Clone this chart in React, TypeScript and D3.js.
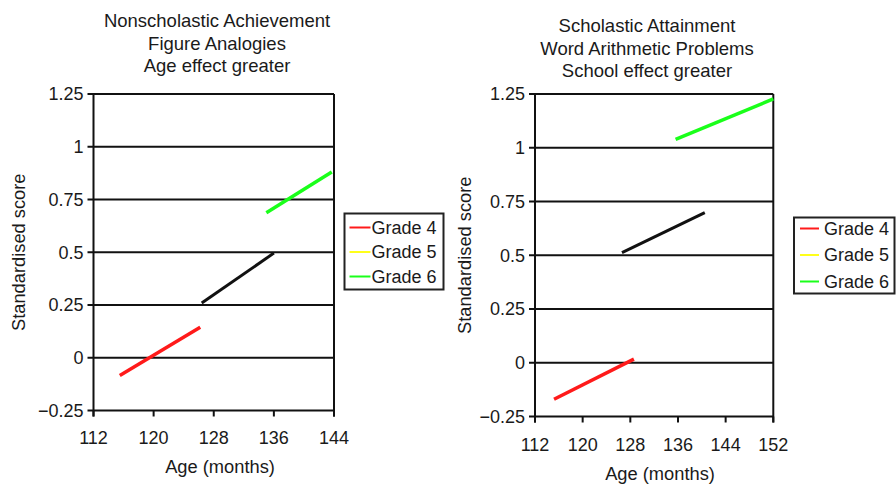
import React from 'react';
import { scaleLinear, line } from 'd3';

// legend entries, shared by both panels
const grades = ['Grade 4', 'Grade 5', 'Grade 6'];
const legendColors = ['#ff1a1a', '#ffff1a', '#1aff1a'];
// the grade 5 segment is drawn in black in the original figure
const lineColors = ['#ff1a1a', '#111111', '#1aff1a'];

const yTicks = [-0.25, 0, 0.25, 0.5, 0.75, 1, 1.25];
const yTickLabels = ['\u22120.25', '0', '0.25', '0.5', '0.75', '1', '1.25'];

// left panel: age (months) vs standardised score, start and end of each grade
const analogiesTitle = ['Nonscholastic Achievement', 'Figure Analogies', 'Age effect greater'];
const analogiesXTicks = [112, 120, 128, 136, 144];
const analogiesG4 = [[115.5, -0.084], [126.2, 0.145]];
const analogiesG5 = [[126.4, 0.259], [136.0, 0.496]];
const analogiesG6 = [[135.0, 0.687], [143.7, 0.88]];

// right panel
const arithmeticTitle = ['Scholastic Attainment', 'Word Arithmetic Problems', 'School effect greater'];
const arithmeticXTicks = [112, 120, 128, 136, 144, 152];
const arithmeticG4 = [[115.2, -0.17], [128.6, 0.017]];
const arithmeticG5 = [[126.6, 0.512], [140.5, 0.698]];
const arithmeticG6 = [[135.6, 1.039], [152, 1.227]];

const font = '"Liberation Sans", Arial, sans-serif';

function Panel({ title, titleX, titleY, xTicks, series, x0, x1, y0, y1, tickBase, axisLabelX, axisLabelY, yLabelX, legend }) {
  const x = scaleLinear().domain([xTicks[0], xTicks[xTicks.length - 1]]).range([x0, x1]);
  const y = scaleLinear().domain([-0.25, 1.25]).range([y1, y0]);
  const path = line().x(d => x(d[0])).y(d => y(d[1]));

  return (
    <g fontFamily={font} fill="#1a1a1a">
      {title.map((t, i) => (
        <text key={i} x={titleX} y={titleY + i * 22.5} textAnchor="middle" fontSize={18.5}>{t}</text>
      ))}

      {/* gridlines at every tick */}
      {yTicks.map((v, i) => (
        <g key={i}>
          <line x1={x0 - 6} x2={x1} y1={y(v)} y2={y(v)} stroke="#111" strokeWidth={2} />
          <text x={x0 - 10} y={y(v)} dy="0.35em" textAnchor="end" fontSize={18}>{yTickLabels[i]}</text>
        </g>
      ))}
      <line x1={x0} x2={x0} y1={y0} y2={y1 + 6} stroke="#111" strokeWidth={2} />
      <line x1={x1} x2={x1} y1={y0} y2={y1 + 6} stroke="#111" strokeWidth={2} />
      {xTicks.map((v, i) => (
        <g key={i}>
          <line x1={x(v)} x2={x(v)} y1={y1} y2={y1 + 6} stroke="#111" strokeWidth={2} />
          <text x={x(v)} y={tickBase} textAnchor="middle" fontSize={18}>{v}</text>
        </g>
      ))}

      {series.map((s, i) => (
        <path key={i} d={path(s)} fill="none" stroke={lineColors[i]} strokeWidth={i === 1 ? 3 : 3.5} />
      ))}

      <text x={axisLabelX} y={axisLabelY} textAnchor="middle" fontSize={18.3}>Age (months)</text>
      <text transform={`translate(${yLabelX},${(y0 + y1) / 2}) rotate(-90)`} textAnchor="middle" fontSize={18.3}>
        Standardised score
      </text>

      <rect x={legend.x} y={legend.y} width={legend.w} height={legend.h} fill="#fff" stroke="#222" strokeWidth={2} />
      {grades.map((g, i) => (
        <g key={g}>
          <line x1={legend.x + legend.lx0} x2={legend.x + legend.lx1}
            y1={legend.y + legend.r0 + i * legend.dr} y2={legend.y + legend.r0 + i * legend.dr}
            stroke={legendColors[i]} strokeWidth={2} />
          <text x={legend.x + legend.tx} y={legend.y + legend.r0 + i * legend.dr} dy="0.35em" fontSize={18}>{g}</text>
        </g>
      ))}
    </g>
  );
}

export default function App() {
  return (
    <svg width={896} height={485} style={{ position: 'absolute', left: 0, top: 0, background: '#fff' }}>
      <Panel
        title={analogiesTitle} titleX={217} titleY={27}
        xTicks={analogiesXTicks}
        series={[analogiesG4, analogiesG5, analogiesG6]}
        x0={93.5} x1={334} y0={94} y1={410.5}
        tickBase={444} axisLabelX={220} axisLabelY={473} yLabelX={25}
        legend={{ x: 344.5, y: 213.5, w: 99, h: 76, lx0: 5, lx1: 26, tx: 27, r0: 14, dr: 24.5 }}
      />
      <Panel
        title={arithmeticTitle} titleX={647} titleY={32}
        xTicks={arithmeticXTicks}
        series={[arithmeticG4, arithmeticG5, arithmeticG6]}
        x0={535} x1={773.3} y0={94} y1={416.5}
        tickBase={451} axisLabelX={660} axisLabelY={480} yLabelX={471}
        legend={{ x: 794, y: 217.5, w: 100.5, h: 76, lx0: 6, lx1: 25, tx: 30, r0: 11, dr: 26.5 }}
      />
    </svg>
  );
}
